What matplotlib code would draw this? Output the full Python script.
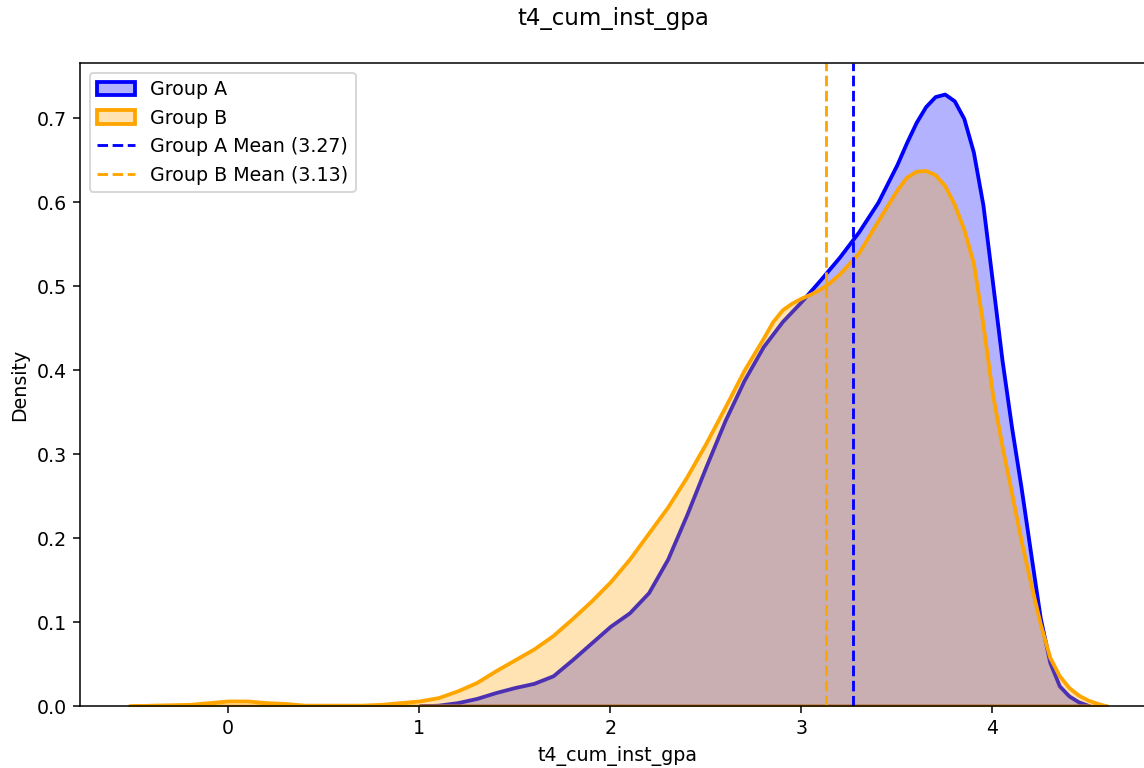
import matplotlib
matplotlib.use("Agg")
import matplotlib.pyplot as plt
from matplotlib.colors import to_rgba

# density curves (x = gpa, y = density)
gpa_a = [1.00, 1.10, 1.20, 1.30, 1.40, 1.50, 1.60, 1.70, 1.80, 1.90,
         2.00, 2.10, 2.20, 2.30, 2.40, 2.50, 2.60, 2.70, 2.80, 2.90,
         3.00, 3.10, 3.20, 3.30, 3.40, 3.50, 3.55, 3.60, 3.65, 3.70,
         3.75, 3.80, 3.85, 3.90, 3.95, 4.00, 4.05, 4.10, 4.15, 4.20,
         4.25, 4.30, 4.35, 4.40, 4.45, 4.51]
dens_a = [0.000, 0.001, 0.004, 0.009, 0.016, 0.022, 0.027, 0.036, 0.055, 0.075,
          0.095, 0.111, 0.135, 0.175, 0.228, 0.285, 0.340, 0.388, 0.428, 0.458,
          0.482, 0.508, 0.535, 0.565, 0.600, 0.645, 0.671, 0.695, 0.714, 0.726,
          0.729, 0.721, 0.700, 0.660, 0.597, 0.505, 0.412, 0.332, 0.260, 0.182,
          0.105, 0.052, 0.024, 0.012, 0.005, 0.000]

gpa_b = [-0.52, -0.40, -0.20, -0.10, 0.00, 0.10, 0.20, 0.30, 0.40, 0.50,
         0.60, 0.70, 0.80, 0.90, 1.00, 1.10, 1.20, 1.30, 1.40, 1.50,
         1.60, 1.70, 1.80, 1.90, 2.00, 2.10, 2.20, 2.30, 2.40, 2.50,
         2.60, 2.70, 2.80, 2.85, 2.90, 2.95, 3.00, 3.05, 3.10, 3.15,
         3.20, 3.30, 3.40, 3.50, 3.55, 3.60, 3.65, 3.70, 3.75, 3.80,
         3.85, 3.90, 3.95, 4.00, 4.05, 4.10, 4.15, 4.20, 4.25, 4.30,
         4.35, 4.40, 4.45, 4.50, 4.55, 4.60]
dens_b = [0.000, 0.001, 0.002, 0.004, 0.006, 0.006, 0.004, 0.003, 0.001, 0.001,
          0.001, 0.001, 0.002, 0.004, 0.006, 0.010, 0.018, 0.028, 0.042, 0.055,
          0.068, 0.084, 0.104, 0.125, 0.148, 0.175, 0.206, 0.237, 0.273, 0.313,
          0.356, 0.400, 0.438, 0.458, 0.472, 0.480, 0.486, 0.491, 0.497, 0.505,
          0.515, 0.540, 0.578, 0.615, 0.630, 0.637, 0.638, 0.633, 0.620, 0.598,
          0.568, 0.528, 0.455, 0.372, 0.310, 0.254, 0.197, 0.146, 0.098, 0.058,
          0.036, 0.022, 0.013, 0.007, 0.003, 0.000]

mean_a = 3.27
mean_b = 3.13

DPI = 137
fig = plt.figure(figsize=(1144 / DPI, 768 / DPI), dpi=DPI)
# axes runs past the right edge, as in the (cropped) reference
ax = fig.add_axes([80 / 1144, 62 / 768, 1076 / 1144, 643 / 768])

ax.fill_between(gpa_a, dens_a, facecolor=to_rgba("blue", 0.3),
                edgecolor="blue", linewidth=2, label="Group A")
ax.fill_between(gpa_b, dens_b, facecolor=to_rgba("orange", 0.3),
                edgecolor="orange", linewidth=2, label="Group B")

ax.axvline(mean_a, color="blue", linestyle="--", linewidth=1.5,
           label=f"Group A Mean ({mean_a:.2f})")
ax.axvline(mean_b, color="orange", linestyle="--", linewidth=1.5,
           label=f"Group B Mean ({mean_b:.2f})")

ax.set_xlim(-0.776, 4.856)
ax.set_ylim(0, 0.766)
ax.set_xlabel("t4_cum_inst_gpa")
ax.set_ylabel("Density")
ax.legend(loc="upper left")

fig.suptitle("t4_cum_inst_gpa", x=613 / 1144, y=1 - 18 / 768, va="center")

fig.savefig("out.png", dpi=DPI)
